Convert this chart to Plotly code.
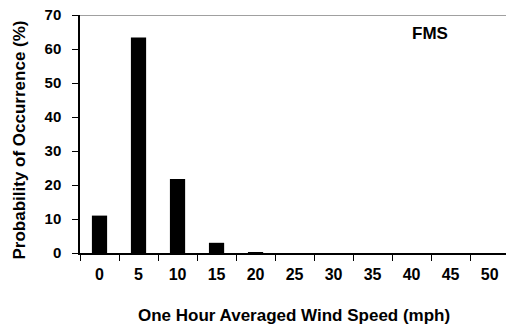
import plotly.graph_objects as go

# Wind speed bins (mph) and probability of occurrence (%)
speed_bins = ["0", "5", "10", "15", "20", "25", "30", "35", "40", "45", "50"]
probability = [11.0, 63.4, 21.8, 3.0, 0.2, 0.0, 0.0, 0.0, 0.0, 0.0, 0.0]
y_ticks = [0, 10, 20, 30, 40, 50, 60, 70]
station = "FMS"

FONT = "Liberation Sans, Arial, sans-serif"

fig = go.Figure(
    go.Bar(
        x=speed_bins,
        y=probability,
        marker=dict(color="black", line=dict(width=0)),
        width=0.39,
    )
)

fig.update_layout(
    width=506,
    height=326,
    margin=dict(l=80, r=0, t=15, b=73),
    plot_bgcolor="white",
    paper_bgcolor="white",
    showlegend=False,
    font=dict(family=FONT, color="black"),
)

fig.update_xaxes(
    type="category",
    range=[-0.5, 10.42],
    tickson="boundaries",
    ticks="outside",
    ticklen=6,
    tickwidth=1,
    tickcolor="black",
    showline=True,
    linecolor="black",
    linewidth=1.5,
    showgrid=False,
    ticklabelstandoff=6,
    tickfont=dict(family=FONT, size=16, color="black", weight="bold"),
    zeroline=False,
)

fig.update_yaxes(
    range=[0, 70],
    tickvals=y_ticks,
    ticks="outside",
    ticklen=6,
    tickwidth=1,
    tickcolor="black",
    showline=True,
    linecolor="black",
    linewidth=1.5,
    showgrid=False,
    zeroline=False,
    ticklabelstandoff=8,
    tickfont=dict(family=FONT, size=15, color="black", weight="bold"),
)

# top border of the plot area
fig.add_shape(
    type="line", xref="paper", yref="y",
    x0=0, x1=1, y0=70, y1=70,
    line=dict(color="#808080", width=1.5),
)

fig.add_annotation(
    text="Probability of Occurrence (%)",
    xref="paper", yref="paper",
    x=(18.5 - 80) / 426, y=(253 - 140) / 238,
    textangle=-90, showarrow=False,
    xanchor="center", yanchor="middle",
    font=dict(family=FONT, size=17, color="black", weight="bold"),
)

fig.add_annotation(
    text="One Hour Averaged Wind Speed (mph)",
    xref="paper", yref="paper",
    x=(294 - 80) / 426, y=(253 - 315) / 238,
    showarrow=False,
    xanchor="center", yanchor="middle",
    font=dict(family=FONT, size=17, color="black", weight="bold"),
)

fig.add_annotation(
    text=station,
    xref="paper", yref="paper",
    x=(429.5 - 80) / 426, y=(253 - 33.5) / 238,
    showarrow=False,
    xanchor="center", yanchor="middle",
    font=dict(family=FONT, size=17, color="black", weight="bold"),
)

fig.write_html("out.html")
